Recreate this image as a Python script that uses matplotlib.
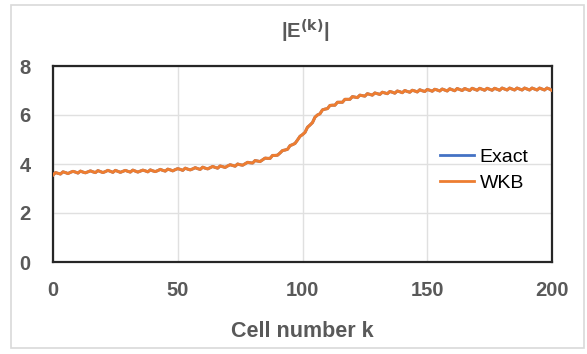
import matplotlib
matplotlib.use("Agg")
import matplotlib.pyplot as plt
from matplotlib.patches import Rectangle

# ---- data ----
cell_k = list(range(0, 201))
wkb = [
    3.55, 3.65, 3.62, 3.59, 3.68, 3.65, 3.61, 3.66, 3.70, 3.67,
    3.63, 3.71, 3.67, 3.64, 3.68, 3.72, 3.68, 3.65, 3.73, 3.69,
    3.65, 3.69, 3.74, 3.70, 3.66, 3.74, 3.70, 3.66, 3.70, 3.74,
    3.70, 3.67, 3.75, 3.71, 3.67, 3.71, 3.75, 3.72, 3.68, 3.76,
    3.72, 3.69, 3.73, 3.78, 3.74, 3.71, 3.79, 3.76, 3.72, 3.77,
    3.81, 3.78, 3.74, 3.83, 3.79, 3.76, 3.80, 3.85, 3.81, 3.78,
    3.87, 3.83, 3.80, 3.85, 3.90, 3.86, 3.83, 3.92, 3.89, 3.86,
    3.92, 3.97, 3.94, 3.91, 4.00, 3.97, 3.95, 4.01, 4.07, 4.05,
    4.04, 4.14, 4.12, 4.10, 4.17, 4.24, 4.23, 4.23, 4.35, 4.35,
    4.36, 4.45, 4.55, 4.57, 4.60, 4.75, 4.79, 4.84, 4.98, 5.13,
    5.20, 5.29, 5.50, 5.59, 5.69, 5.91, 6.00, 6.05, 6.21, 6.24,
    6.26, 6.39, 6.40, 6.40, 6.52, 6.52, 6.52, 6.64, 6.64, 6.64,
    6.75, 6.73, 6.71, 6.81, 6.79, 6.77, 6.87, 6.84, 6.81, 6.90,
    6.87, 6.84, 6.93, 6.90, 6.87, 6.96, 6.93, 6.89, 6.98, 6.95,
    6.91, 7.00, 6.96, 6.93, 7.01, 6.98, 6.94, 7.03, 6.99, 6.96,
    7.04, 7.01, 6.97, 7.05, 7.02, 6.98, 7.06, 7.02, 6.98, 7.07,
    7.03, 6.99, 7.08, 7.04, 7.00, 7.08, 7.04, 7.00, 7.09, 7.05,
    7.01, 7.09, 7.05, 7.01, 7.09, 7.05, 7.01, 7.09, 7.05, 7.01,
    7.10, 7.06, 7.02, 7.10, 7.06, 7.02, 7.10, 7.06, 7.02, 7.10,
    7.06, 7.02, 7.10, 7.06, 7.02, 7.10, 7.06, 7.02, 7.10, 7.06,
    7.00,
]
exact = list(wkb)
x_ticks = [0, 50, 100, 150, 200]
y_ticks = [0, 2, 4, 6, 8]
series_names = ["Exact", "WKB"]

# ---- style ----
plt.rcParams['font.family'] = ['Liberation Sans', 'DejaVu Sans']
GRAY = "#595959"
BLUE = "#4472C4"
ORANGE = "#ED7D31"

W, H = 587, 354
fig = plt.figure(figsize=(W / 100, H / 100), dpi=100)
fig.patch.set_facecolor("white")
fig.patches.append(Rectangle((11 / W, 6 / H), (584 - 11) / W, (349 - 6) / H,
                             transform=fig.transFigure, fill=False,
                             edgecolor="#d9d9d9", linewidth=1.2))

ax = fig.add_axes([53 / W, 1 - 262 / H, (552 - 53) / W, (262 - 66) / H])
ax.plot(cell_k, exact, color=BLUE, linewidth=2.0, label=series_names[0], zorder=3)
ax.plot(cell_k, wkb, color=ORANGE, linewidth=2.2, label=series_names[1], zorder=4)

ax.set_xlim(0, 200)
ax.set_ylim(0, 8)
ax.set_xticks(x_ticks)
ax.set_yticks(y_ticks)
ax.grid(True, color="#e0e0e0", linewidth=1.0)
ax.set_axisbelow(True)
for s in ax.spines.values():
    s.set_color("#262626")
    s.set_linewidth(1.6)
ax.tick_params(length=0, labelsize=14.5, labelcolor=GRAY, pad=0)
ax.tick_params(axis='x', pad=14)
ax.tick_params(axis='y', pad=16)
for lab in ax.get_xticklabels() + ax.get_yticklabels():
    lab.set_fontweight("bold")

fig.text(305 / W, 1 - 31 / H, r"|E$^{\mathbf{(k)}}$|", ha="center", va="center",
         fontsize=14.5, fontweight="bold", color=GRAY)
ax.set_xlabel("Cell number k", fontsize=15.5, fontweight="bold", color=GRAY,
              labelpad=15)

leg = ax.legend(loc="center left", bbox_to_anchor=(430 / W, 1 - 170 / H),
                bbox_transform=fig.transFigure, frameon=False, fontsize=14,
                handlelength=1.75, handletextpad=0.3, labelspacing=0.4,
                borderpad=0)
for h in leg.get_lines():
    h.set_linewidth(2.0)

fig.savefig("out.png", dpi=100)
